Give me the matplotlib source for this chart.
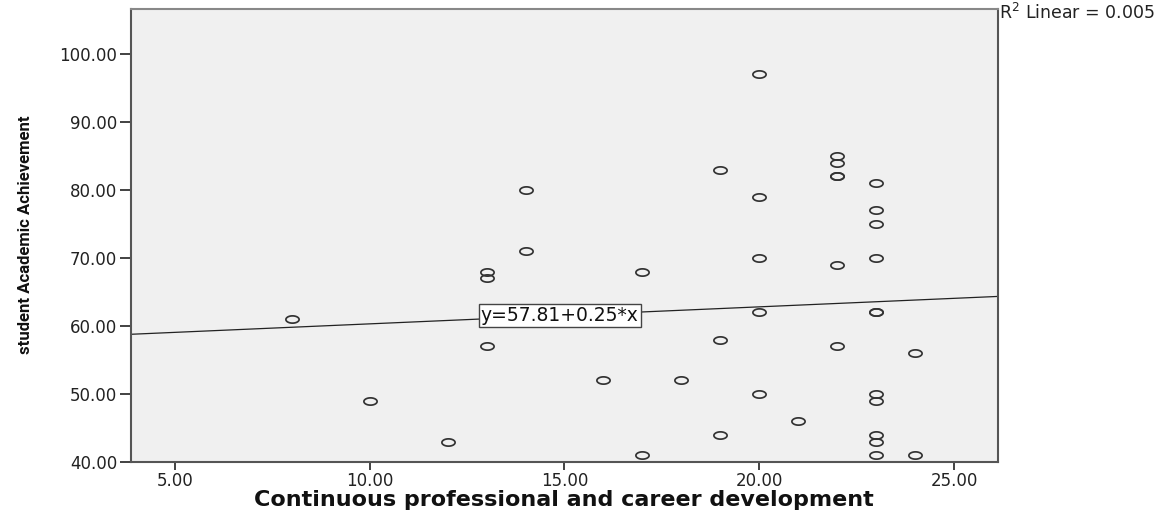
import matplotlib
matplotlib.use("Agg")
import matplotlib.pyplot as plt
import numpy as np
from matplotlib.path import Path

# Career development score (x) and academic achievement (y) for each respondent
career_dev = [8, 10, 12,
              13, 13, 13,
              14, 14,
              16,
              17, 17,
              18,
              19, 19, 19,
              20, 20, 20, 20, 20,
              21,
              22, 22, 22, 22, 22, 22,
              23, 23, 23, 23, 23, 23, 23, 23, 23, 23, 23,
              24, 24]
achievement = [61, 49, 43,
               68, 67, 57,
               80, 71,
               52,
               68, 41,
               52,
               83, 58, 44,
               97, 79, 70, 62, 50,
               46,
               85, 84, 82, 82, 69, 57,
               81, 77, 75, 70, 62, 62, 50, 49, 44, 43, 41,
               56, 41]

# Linear fit reported on the chart
intercept = 57.81
slope = 0.25
r_squared = 0.005

x_ticks = [5, 10, 15, 20, 25]
y_ticks = [40, 50, 60, 70, 80, 90, 100]

fig = plt.figure(figsize=(11.72, 5.13), dpi=100)
ax = fig.add_axes([0.1118, 0.0994, 0.7397, 0.8831])
ax.set_facecolor("#F0F0F0")

# Slightly flattened open-circle marker
theta = np.linspace(0, 2 * np.pi, 60)
ellipse = Path(np.column_stack([np.cos(theta), 0.55 * np.sin(theta)]), closed=True)

ax.plot(career_dev, achievement, linestyle="none", marker=ellipse,
        markersize=9.5, markerfacecolor="none", markeredgecolor="#333333",
        markeredgewidth=1.25, zorder=3)

xmin, xmax = 3.87, 26.13
ymin, ymax = 40, 106.6
ax.set_xlim(xmin, xmax)
ax.set_ylim(ymin, ymax)

fit_x = np.array([xmin, xmax])
ax.plot(fit_x, intercept + slope * fit_x, color="#222222", linewidth=0.9, zorder=2)

label_x = 14.88
ax.text(label_x, intercept + slope * label_x, f"y={intercept:.2f}+{slope:.2f}*x",
        ha="center", va="center", fontsize=13.5, color="#111111",
        family="DejaVu Sans", zorder=4,
        bbox=dict(boxstyle="square,pad=0.1", facecolor="white",
                  edgecolor="#444444", linewidth=1.0))

ax.set_xticks(x_ticks)
ax.set_xticklabels([f"{v:.2f}" for v in x_ticks])
ax.set_yticks(y_ticks)
ax.set_yticklabels([f"{v:.2f}" for v in y_ticks])

ax.tick_params(axis="y", direction="out", length=8, width=1.3, color="#333333",
               pad=2, labelsize=12, labelcolor="#222222")
ax.tick_params(axis="x", direction="out", length=6, width=1.3, color="#333333",
               pad=1.5, labelsize=12, labelcolor="#222222")

for side in ["left", "bottom", "right", "top"]:
    ax.spines[side].set_color("#555555")
    ax.spines[side].set_linewidth(1.5)
ax.spines["top"].set_color("#888888")

fig.text(0.481, 0.025, "Continuous professional and career development",
         ha="center", va="center", fontsize=16, fontweight="bold",
         family="DejaVu Sans", color="#111111")
fig.text(0.0215, 0.542, "student Academic Achievement", rotation=90,
         ha="center", va="center", fontsize=12, fontweight="bold",
         family=["Roboto", "DejaVu Sans"], color="#111111")

fig.text(0.8525, 0.975, f"R$^2$ Linear = {r_squared:.3f}", ha="left", va="center",
         fontsize=12.5, color="#222222", family="DejaVu Sans")

fig.savefig("out.png", dpi=100, facecolor="white")
